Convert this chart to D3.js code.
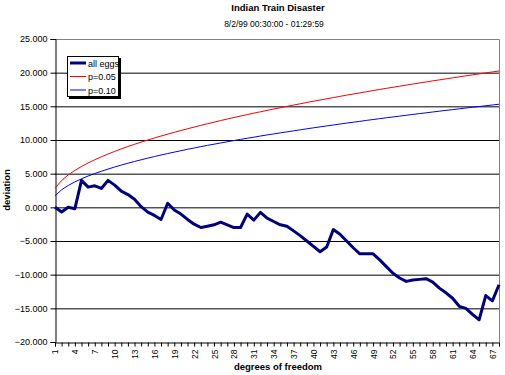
<!DOCTYPE html>
<html><head><meta charset="utf-8">
<script src="https://cdn.jsdelivr.net/npm/d3@7"></script>
<style>
body{margin:0;background:#fff;}
text{font-family:Arial,"Liberation Sans",sans-serif;}
</style></head>
<body>
<svg id="c" width="505" height="375"></svg>
<script>
const degrees = d3.range(1, 69);
const allEggs = [0.0,-0.7,0.0,-0.2,4.0,3.0,3.2,2.8,4.0,3.3,2.4,1.9,1.2,0.1,-0.7,-1.2,-1.8,0.6,-0.4,-1.0,
  -1.8,-2.5,-3.0,-2.8,-2.6,-2.2,-2.6,-3.0,-3.0,-1.0,-1.9,-0.75,-1.6,-2.1,-2.6,-2.8,-3.5,-4.2,-5.0,-5.8,
  -6.6,-5.9,-3.3,-4.0,-5.0,-6.0,-6.9,-6.9,-6.9,-7.8,-8.8,-9.8,-10.5,-11.0,-10.8,-10.7,-10.6,-11.1,-12.0,-12.7,
  -13.5,-14.7,-15.0,-15.9,-16.7,-13.1,-13.9,-11.5];
const p05 = [2.84,3.99,4.82,5.49,6.07,6.59,7.07,7.51,7.92,8.31,8.68,9.03,9.36,9.69,10.00,10.30,10.59,10.87,11.14,11.41,
  11.67,11.92,12.17,12.42,12.65,12.89,13.11,13.34,13.56,13.77,13.99,14.19,14.40,14.60,14.80,15.00,15.19,15.38,15.57,15.76,
  15.94,16.12,16.30,16.48,16.66,16.83,17.00,17.17,17.34,17.51,17.67,17.83,17.99,18.15,18.31,18.47,18.62,18.78,18.93,19.08,
  19.23,19.38,19.53,19.68,19.82,19.97,20.11,20.25];
const p10 = [1.71,2.61,3.25,3.78,4.24,4.65,5.02,5.36,5.68,5.99,6.28,6.55,6.81,7.06,7.31,7.54,7.77,7.99,8.20,8.41,
  8.62,8.81,9.01,9.20,9.38,9.56,9.74,9.92,10.09,10.26,10.42,10.59,10.75,10.90,11.06,11.21,11.36,11.51,11.66,11.81,
  11.95,12.09,12.23,12.37,12.51,12.64,12.77,12.91,13.04,13.17,13.30,13.42,13.55,13.67,13.80,13.92,14.04,14.16,14.28,14.40,
  14.51,14.63,14.75,14.86,14.97,15.09,15.20,15.31];
const yTicks = [-20,-15,-10,-5,0,5,10,15,20,25];
const xTickLabels = d3.range(1, 69, 3);
const seriesNames = ["all eggs","p=0.05","p=0.10"];
const seriesColors = ["#000080","#ff0000","#0000ff"];
const seriesWidths = [3,1,1];

const svg = d3.select("#c");
const L = 55, R = 499, T = 39, B = 342;
const x = d3.scalePoint().domain(degrees).range([L, R]);
const y = d3.scaleLinear().domain([-20, 25]).range([B, T]);

// title
svg.append("text").attr("x", 278).attr("y", 11).attr("text-anchor","middle")
  .attr("font-size", 9.5).attr("font-weight","bold").text("Indian Train Disaster");
svg.append("text").attr("x", 274).attr("y", 27).attr("text-anchor","middle")
  .attr("font-size", 8.5).text("8/2/99 00:30:00 - 01:29:59");

// gridlines
svg.append("g").selectAll("line").data(yTicks.filter(v => v > -20 && v < 25)).join("line")
  .attr("x1", L).attr("x2", R).attr("y1", d => y(d) + 0.5).attr("y2", d => y(d) + 0.5)
  .attr("stroke", "#000").attr("stroke-width", 1);
// plot border (gray top/right)
svg.append("path").attr("d", `M${L},${T+0.5}H${R+0.5}V${B}`).attr("fill","none").attr("stroke","#808080");

// y axis
const ya = svg.append("g").attr("transform", `translate(${L+0.5},0)`)
  .call(d3.axisLeft(y).tickValues(yTicks).tickSize(5).tickPadding(3).tickFormat(d3.format(".3f")));
ya.select(".domain").attr("stroke","#000");
ya.selectAll("text").attr("font-size", 9).attr("font-family","Arial, Liberation Sans, sans-serif").attr("fill","#000");

// x axis
const xa = svg.append("g").attr("transform", `translate(0,${B+0.5})`)
  .call(d3.axisBottom(x).tickSize(4).tickFormat(d => xTickLabels.includes(d) ? d : ""));
xa.select(".domain").attr("stroke","#000");
xa.selectAll("text").attr("font-size", 8.5).attr("font-family","Arial, Liberation Sans, sans-serif")
  .attr("transform","rotate(-90)").attr("text-anchor","end").attr("dy","0.35em").attr("x", -7).attr("y", 0);

// axis titles
svg.append("text").attr("x", 278).attr("y", 370).attr("text-anchor","middle")
  .attr("font-size", 9.5).attr("font-weight","bold").text("degrees of freedom");
svg.append("text").attr("transform","translate(10,190) rotate(-90)").attr("text-anchor","middle")
  .attr("font-size", 9.5).attr("font-weight","bold").text("deviation");

// lines
const series = [allEggs, p05, p10];
const line = d3.line().x((d, i) => x(degrees[i])).y(d => y(d));
[2,1,0].forEach(k => {
  svg.append("path").datum(series[k]).attr("d", line).attr("fill","none")
    .attr("stroke", seriesColors[k]).attr("stroke-width", seriesWidths[k]).attr("stroke-linejoin","round");
});

// legend
const lg = svg.append("g").attr("transform","translate(67,56)");
lg.append("rect").attr("x",2).attr("y",2).attr("width",52).attr("height",41).attr("fill","#000");
lg.append("rect").attr("x",0.5).attr("y",0.5).attr("width",51).attr("height",40).attr("fill","#fff").attr("stroke","#000");
seriesNames.forEach((n, i) => {
  const yy = 7 + i * 13.5;
  lg.append("line").attr("x1",3).attr("x2",19).attr("y1",yy).attr("y2",yy)
    .attr("stroke", seriesColors[i]).attr("stroke-width", seriesWidths[i]);
  lg.append("text").attr("x",21).attr("y",yy+3.5).attr("font-size",9).text(n);
});
</script>
</body></html>
